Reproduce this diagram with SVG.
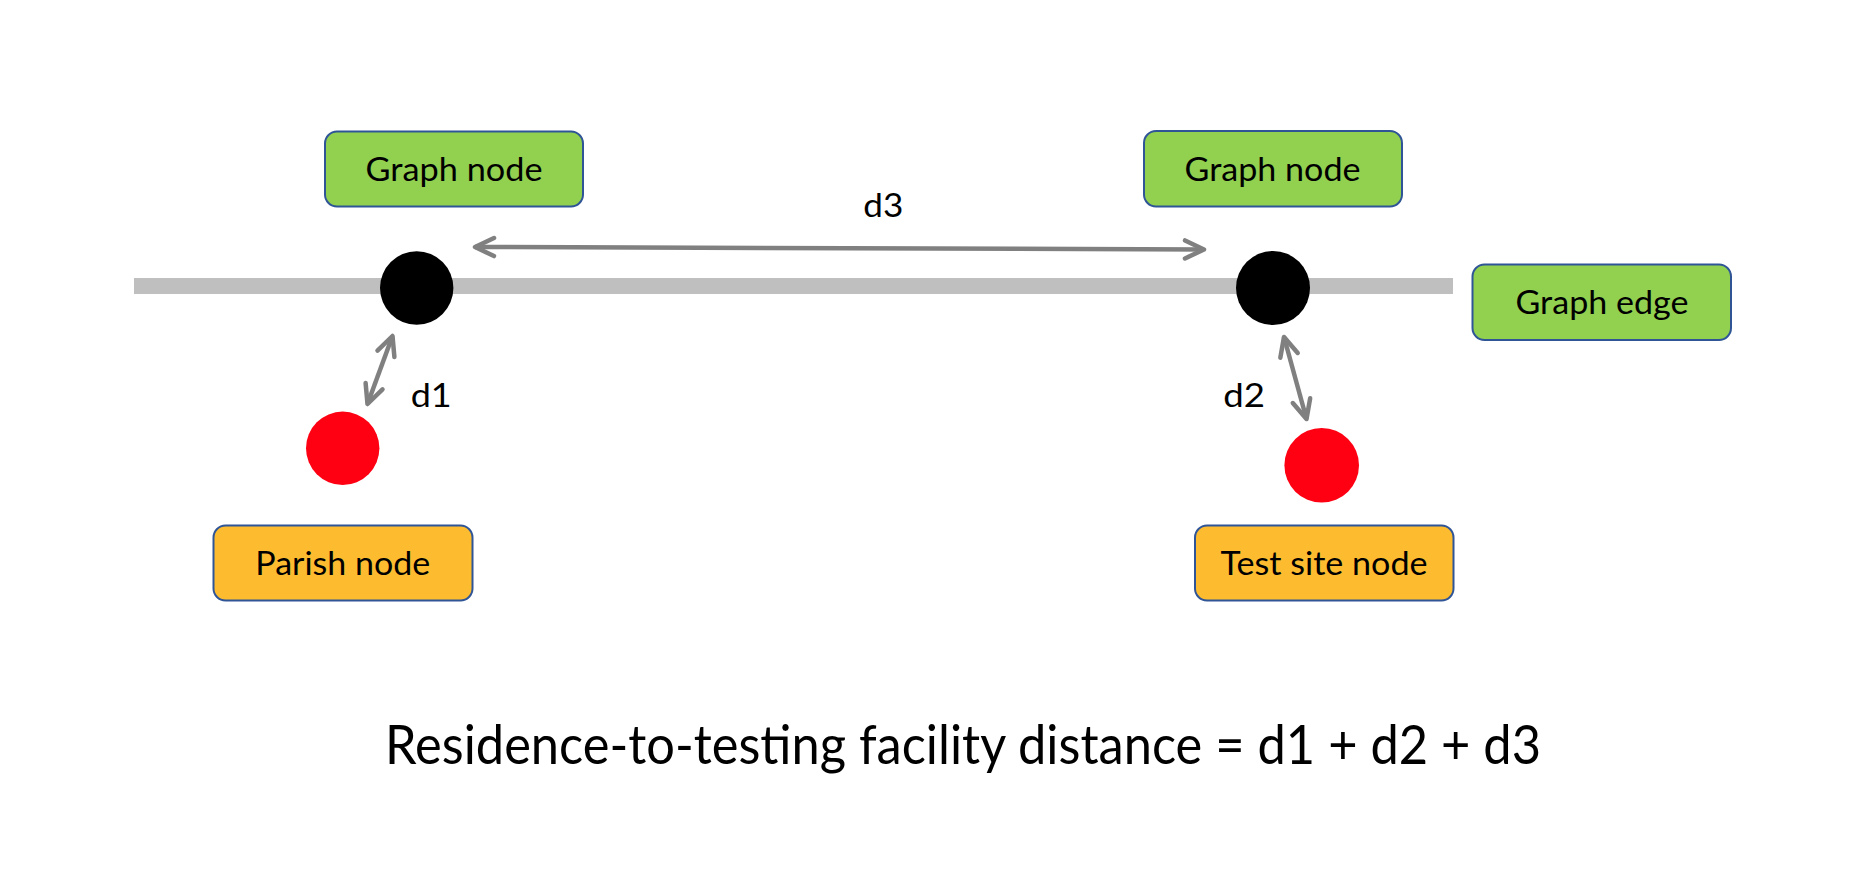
<svg xmlns="http://www.w3.org/2000/svg" width="1864" height="874" viewBox="0 0 1864 874">
<style>
.box{stroke:#2F5597;stroke-width:2}
.g{fill:#92D050}
.o{fill:#FDBC30}
.lbl{font-family:Lato,"Noto Sans",sans-serif;font-size:33px;fill:#000;text-anchor:middle}
.conn{stroke:#808080;stroke-width:4.5;fill:none;marker-start:url(#ah);marker-end:url(#ah)}
</style>
<defs>
<marker id="ah" markerUnits="userSpaceOnUse" viewBox="-24 -14 28 28" markerWidth="28" markerHeight="28" refX="0" refY="0" orient="auto-start-reverse">
<path d="M-19,-9 L0,0 L-19,9" fill="none" stroke="#808080" stroke-width="4.5" stroke-linecap="round" stroke-linejoin="round"/>
</marker>
</defs>
<rect width="1864" height="874" fill="#fff"/>
<g id="graph-edge-line">
<rect x="134" y="278" width="1319" height="16" fill="#BFBFBF"/>
</g>
<g id="connectors">
<line class="conn" x1="475" y1="247" x2="1204" y2="249.5"/>
<line class="conn" x1="392.5" y1="336" x2="367.5" y2="404"/>
<line class="conn" x1="1284" y1="337" x2="1306.5" y2="419"/>
</g>
<g id="graph-node-1">
<circle cx="416.7" cy="288" r="36.7" fill="#000"/>
</g>
<g id="graph-node-2">
<circle cx="1273" cy="288" r="37" fill="#000"/>
</g>
<g id="parish-point">
<circle cx="342.7" cy="448.3" r="36.7" fill="#FF0013"/>
</g>
<g id="test-site-point">
<circle cx="1321.7" cy="465.3" r="37.3" fill="#FF0013"/>
</g>
<g id="label-graph-node-1">
<rect class="box g" x="325" y="131.5" width="258" height="75" rx="12"/>
<text class="lbl" x="454" y="181" textLength="177" lengthAdjust="spacingAndGlyphs">Graph node</text>
</g>
<g id="label-graph-node-2">
<rect class="box g" x="1144" y="131" width="258" height="75.5" rx="12"/>
<text class="lbl" x="1272.5" y="180.5" textLength="176" lengthAdjust="spacingAndGlyphs">Graph node</text>
</g>
<g id="label-graph-edge">
<rect class="box g" x="1472.5" y="264.5" width="258.5" height="75.5" rx="12"/>
<text class="lbl" x="1602" y="314" textLength="173" lengthAdjust="spacingAndGlyphs">Graph edge</text>
</g>
<g id="label-parish-node">
<rect class="box o" x="213.5" y="525.5" width="259" height="75" rx="12"/>
<text class="lbl" x="342.8" y="575" textLength="175" lengthAdjust="spacingAndGlyphs">Parish node</text>
</g>
<g id="label-test-site-node">
<rect class="box o" x="1195" y="525.5" width="258.5" height="75" rx="12"/>
<text class="lbl" x="1324" y="575" textLength="207" lengthAdjust="spacingAndGlyphs">Test site node</text>
</g>
<g id="distance-labels">
<text class="lbl" x="883.3" y="217.3" textLength="40" lengthAdjust="spacingAndGlyphs">d3</text>
<text class="lbl" x="431.2" y="407.3" textLength="41" lengthAdjust="spacingAndGlyphs">d1</text>
<text class="lbl" x="1244.2" y="406.7" textLength="41.7" lengthAdjust="spacingAndGlyphs">d2</text>
</g>
<g id="formula">
<text x="963" y="763.5" font-family="Lato,'Noto Sans',sans-serif" font-size="54" text-anchor="middle" textLength="1156" lengthAdjust="spacingAndGlyphs">Residence-to-testing facility distance = d1 + d2 + d3</text>
</g>
</svg>
